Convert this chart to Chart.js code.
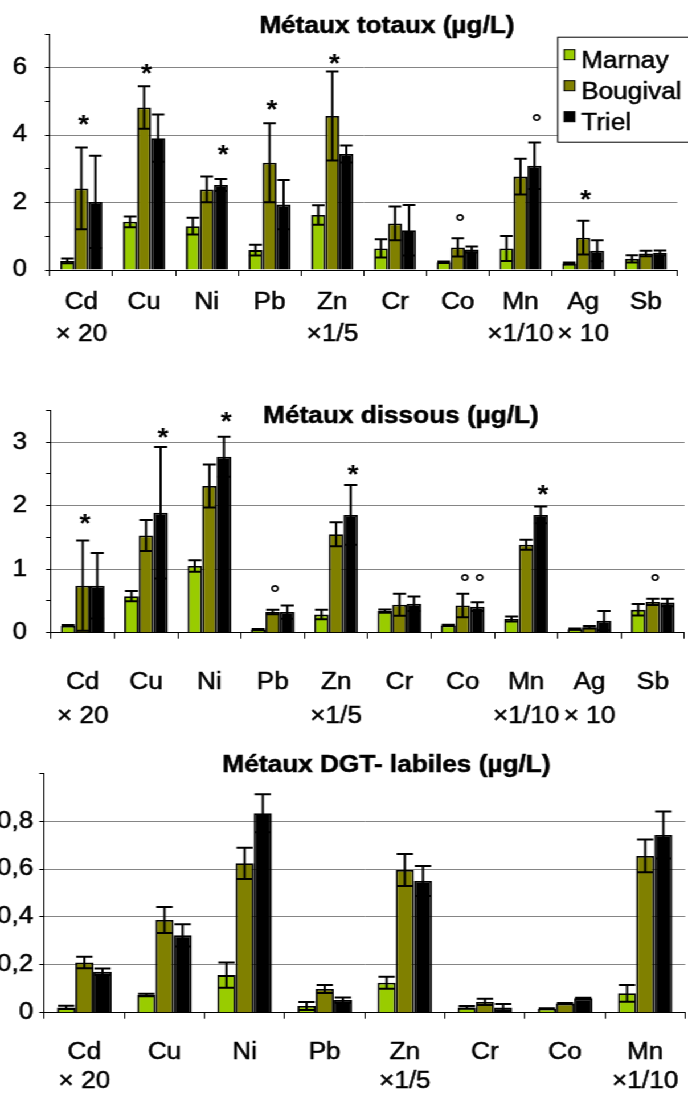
<!DOCTYPE html>
<html>
<head>
<meta charset="utf-8">
<script src="https://cdn.jsdelivr.net/npm/chart.js@4.4.1/dist/chart.umd.min.js"></script>
<style>
  html, body { margin: 0; padding: 0; background: #fff; overflow: hidden; width: 688px; height: 1095px; }
  /* the sheet is drawn at 604px and widened to the page width */
  #sheet { position: absolute; left: 0; top: 0; width: 604px; height: 1095px; overflow: hidden;
           transform: scaleX(1.1391); transform-origin: 0 0; background: #fff; }
  #sheet canvas { position: absolute; left: 0; }
</style>
</head>
<body>
<div id="sheet">
  <canvas id="cTot" width="615" height="350" style="top:0px"></canvas>
  <canvas id="cDis" width="615" height="360" style="top:380px"></canvas>
  <canvas id="cDgt" width="615" height="355" style="top:740px"></canvas>
</div>
<script>
// ---- series ----
const seriesNames = ['Marnay', 'Bougival', 'Triel'];
const seriesColors = ['#99cc00', '#808000', '#000000'];

// ---- total metals (µg/L) ----
const totCats = [['Cd', '× 20'], ['Cu', ''], ['Ni', ''], ['Pb', ''], ['Zn', '×1/5'],
                 ['Cr', ''], ['Co', ''], ['Mn', '×1/10'], ['Ag', '× 10'], ['Sb', '']];
const totMarnay      = [0.27, 1.43, 1.30, 0.59, 1.63, 0.64, 0.23, 0.64, 0.19, 0.33];
const totMarnayErr   = [0.07, 0.16, 0.25, 0.16, 0.29, 0.27, 0.02, 0.37, 0.03, 0.11];
const totBougival    = [2.42, 4.82, 2.39, 3.18, 4.57, 1.38, 0.67, 2.77, 0.96, 0.49];
const totBougivalErr = [1.21, 0.63, 0.38, 1.17, 1.32, 0.50, 0.27, 0.53, 0.50, 0.08];
const totTriel       = [2.02, 3.91, 2.52, 1.94, 3.44, 1.18, 0.61, 3.09, 0.57, 0.51];
const totTrielErr    = [1.37, 0.70, 0.18, 0.73, 0.25, 0.75, 0.09, 0.69, 0.31, 0.07];
const totYTicks = { max: 7, step: 1, labelEvery: 2 };
// significance marks: category, series, symbol, level
const totMarkCat    = [0, 1, 2, 3, 4, 6, 7, 8];
const totMarkSeries = [1, 1, 2, 1, 1, 1, 2, 1];
const totMarkSym    = ['*', '*', '*', '*', '*', '°', '°', '*'];
const totMarkLevel  = [4.5, 6.0, 3.59, 4.93, 6.29, 1.56, 4.52, 2.27];

// ---- dissolved metals (µg/L) ----
const disCats = totCats;
const disMarnay      = [0.11, 0.575, 1.05, 0.05, 0.285, 0.34, 0.115, 0.215, 0.055, 0.36];
const disMarnayErr   = [0.01, 0.08, 0.09, 0.01, 0.075, 0.025, 0.01, 0.04, 0.01, 0.09];
const disBougival    = [0.74, 1.53, 2.31, 0.325, 1.55, 0.44, 0.43, 1.385, 0.085, 0.485];
const disBougivalErr = [0.71, 0.245, 0.34, 0.035, 0.19, 0.175, 0.185, 0.08, 0.02, 0.05];
const disTriel       = [0.74, 1.89, 2.77, 0.325, 1.855, 0.455, 0.41, 1.855, 0.19, 0.475];
const disTrielErr    = [0.515, 1.035, 0.315, 0.105, 0.47, 0.115, 0.07, 0.13, 0.15, 0.06];
const disYTicks = { max: 3.5, step: 0.5, labelEvery: 1 };
const disMarkCat    = [0, 1, 2, 3, 4, 6, 6, 7, 9];
const disMarkSeries = [1, 2, 2, 1, 2, 1, 2, 2, 1];
const disMarkSym    = ['*', '*', '*', '°', '*', '°', '°', '*', '°'];
const disMarkLevel  = [1.815, 3.165, 3.415, 0.705, 2.59, 0.875, 0.875, 2.265, 0.875];

// ---- DGT-labile metals (µg/L) ----
const dgtCats = [['Cd', '× 20'], ['Cu', ''], ['Ni', ''], ['Pb', ''], ['Zn', '×1/5'],
                 ['Cr', ''], ['Co', ''], ['Mn', '×1/10']];
const dgtMarnay      = [0.022, 0.074, 0.157, 0.028, 0.125, 0.022, 0.017, 0.081];
const dgtMarnayErr   = [0.007, 0.005, 0.053, 0.017, 0.025, 0.006, 0.002, 0.035];
const dgtBougival    = [0.21, 0.387, 0.624, 0.099, 0.596, 0.045, 0.038, 0.655];
const dgtBougivalErr = [0.024, 0.054, 0.065, 0.017, 0.067, 0.013, 0.002, 0.068];
const dgtTriel       = [0.171, 0.323, 0.833, 0.053, 0.55, 0.022, 0.06, 0.742];
const dgtTrielErr    = [0.014, 0.046, 0.079, 0.011, 0.063, 0.014, 0.002, 0.098];
const dgtYTicks = { max: 1.0, step: 0.2, labelEvery: 0.2 };

const FONT = "'Liberation Sans', Arial, Helvetica, sans-serif";
const TEXT_SIZE = 23;
const TEXT_STROKE = 0.5;

// vertical error bars, both directions, with caps
const errorBars = {
  id: 'errorBars',
  afterDatasetsDraw(chart) {
    const { ctx } = chart;
    const y = chart.scales.y;
    ctx.save();
    ctx.strokeStyle = '#000';
    ctx.lineWidth = 2;
    chart.data.datasets.forEach((ds, i) => {
      chart.getDatasetMeta(i).data.forEach((bar, j) => {
        const v = ds.data[j], e = ds.errors[j];
        const yt = y.getPixelForValue(v + e);
        const yb = y.getPixelForValue(Math.max(0, v - e));
        const half = bar.width * 0.45;
        ctx.beginPath();
        ctx.moveTo(bar.x, yt); ctx.lineTo(bar.x, yb);
        ctx.moveTo(bar.x - half, yt); ctx.lineTo(bar.x + half, yt);
        ctx.moveTo(bar.x - half, yb); ctx.lineTo(bar.x + half, yb);
        ctx.stroke();
      });
    });
    ctx.restore();
  }
};

function strokedText(ctx, text, x, y) {
  ctx.lineWidth = TEXT_STROKE;
  ctx.strokeStyle = '#000';
  ctx.strokeText(text, x, y);
  ctx.fillText(text, x, y);
}

// title, boxed legend and significance marks
const decorations = {
  id: 'decorations',
  afterDraw(chart, args, o) {
    const { ctx } = chart;
    ctx.save();
    // marks above bars
    if (o.marks) {
      const y = chart.scales.y;
      o.marks.cat.forEach((c, k) => {
        const bar = chart.getDatasetMeta(o.marks.series[k]).data[c];
        const sym = o.marks.sym[k];
        const size = sym === '*' ? 25 : 22;
        ctx.fillStyle = '#000';
        ctx.textAlign = 'center';
        ctx.textBaseline = 'alphabetic';
        ctx.font = 'bold ' + size + 'px ' + FONT;
        ctx.fillText(sym, bar.x + 2, y.getPixelForValue(o.marks.level[k]) + 0.58 * size);
      });
    }
    // title
    ctx.fillStyle = '#000';
    ctx.font = 'bold ' + TEXT_SIZE + 'px ' + FONT;
    ctx.textAlign = 'center';
    ctx.textBaseline = 'alphabetic';
    strokedText(ctx, o.title.text, o.title.x, o.title.y);
    // legend
    if (o.legend) {
      const L = o.legend;
      ctx.fillStyle = '#fff';
      ctx.fillRect(L.x, L.y, L.w, L.h);
      ctx.strokeStyle = '#000';
      ctx.lineWidth = 1;
      ctx.strokeRect(L.x + 0.5, L.y + 0.5, L.w, L.h);
      ctx.font = TEXT_SIZE + 'px ' + FONT;
      ctx.textAlign = 'left';
      chart.data.datasets.forEach((ds, i) => {
        const sy = L.y + 13 + i * 31;
        ctx.fillStyle = ds.backgroundColor;
        ctx.fillRect(L.x + 6, sy, 9.5, 10);
        ctx.strokeStyle = '#000';
        ctx.lineWidth = 1;
        ctx.strokeRect(L.x + 6, sy, 9.5, 10);
        ctx.fillStyle = '#000';
        strokedText(ctx, ds.label, L.x + 21, L.y + 31.5 + i * 30.8);
      });
    }
    ctx.restore();
  }
};

function fmtTick(v) {
  const r = Math.round(v * 10) / 10;
  return String(r).replace('.', ',');
}

function buildChart(id, p) {
  const canvas = document.getElementById(id);
  const W = canvas.width, H = canvas.height;
  const isOn = (v, every) => Math.abs(v / every - Math.round(v / every)) < 1e-6;
  return new Chart(canvas, {
    type: 'bar',
    data: {
      labels: p.labels,
      datasets: p.series.map((s, i) => ({
        label: seriesNames[i],
        data: s[0],
        errors: s[1],
        backgroundColor: seriesColors[i],
        borderColor: '#000',
        borderWidth: 1.8,
        barPercentage: 1.0,
        categoryPercentage: p.catPct
      }))
    },
    options: {
      responsive: false,
      animation: false,
      devicePixelRatio: 1,
      layout: { padding: { left: 0, top: p.area.top, right: W - p.area.right, bottom: 0 } },
      plugins: {
        legend: { display: false },
        tooltip: { enabled: false },
        title: { display: false },
        decorations: { title: p.title, legend: p.legend, marks: p.marks }
      },
      scales: {
        x: {
          type: 'category',
          offset: true,
          afterFit: s => { s.height = H - p.area.bottom; },
          grid: { offset: true, drawOnChartArea: false, drawTicks: true, tickLength: 6, tickColor: '#000', tickWidth: 1 },
          border: { display: true, color: '#000', width: 1 },
          ticks: {
            autoSkip: false, maxRotation: 0, minRotation: 0, color: '#000',
            textStrokeColor: '#000', textStrokeWidth: TEXT_STROKE,
            padding: p.xPad,
            font: { family: FONT, size: TEXT_SIZE, lineHeight: p.xLine }
          }
        },
        y: {
          type: 'linear',
          min: 0,
          max: p.yt.max,
          afterFit: s => { s.width = p.area.left; },
          grid: {
            drawTicks: true, tickLength: 4.4, tickColor: '#000', tickWidth: 1,
            color: c => {
              const v = c.tick ? c.tick.value : 0;
              return (v > 1e-9 && v < p.yt.max - 1e-9 && isOn(v, p.yt.labelEvery)) ? '#858585' : 'rgba(0,0,0,0)';
            },
            lineWidth: 1
          },
          border: { display: true, color: '#000', width: 1 },
          ticks: {
            stepSize: p.yt.step, autoSkip: false, color: '#000', padding: p.yPad,
            textStrokeColor: '#000', textStrokeWidth: TEXT_STROKE,
            font: { family: FONT, size: TEXT_SIZE },
            callback: v => (v < p.yt.max - 1e-9 && isOn(v, p.yt.labelEvery)) ? fmtTick(v) : ''
          }
        }
      }
    },
    plugins: [errorBars, decorations]
  });
}

buildChart('cTot', {
  labels: totCats,
  series: [[totMarnay, totMarnayErr], [totBougival, totBougivalErr], [totTriel, totTrielErr]],
  yt: totYTicks,
  catPct: 0.67,
  area: { left: 43.9, top: 34, right: 594.6, bottom: 270 },
  xPad: 11, xLine: 1.38, yPad: 15.8,
  title: { text: 'Métaux totaux (µg/L)', x: 339.7, y: 33 },
  legend: { x: 489.2, y: 36.7, w: 140, h: 105 },
  marks: { cat: totMarkCat, series: totMarkSeries, sym: totMarkSym, level: totMarkLevel }
});

buildChart('cDis', {
  labels: disCats,
  series: [[disMarnay, disMarnayErr], [disBougival, disBougivalErr], [disTriel, disTrielErr]],
  yt: disYTicks,
  catPct: 0.69,
  area: { left: 44.8, top: 19.3, right: 608.4, bottom: 252.7 },
  xPad: 27.5, xLine: 1.47, yPad: 16.6,
  title: { text: 'Métaux dissous (µg/L)', x: 352, y: 43 },
  legend: null,
  marks: { cat: disMarkCat, series: disMarkSeries, sym: disMarkSym, level: disMarkLevel }
});

buildChart('cDgt', {
  labels: dgtCats,
  series: [[dgtMarnay, dgtMarnayErr], [dgtBougival, dgtBougivalErr], [dgtTriel, dgtTrielErr]],
  yt: dgtYTicks,
  catPct: 0.68,
  area: { left: 38.9, top: 33.3, right: 607.1, bottom: 272.7 },
  xPad: 19, xLine: 1.28, yPad: 5.3,
  title: { text: 'Métaux DGT- labiles (µg/L)', x: 339.3, y: 31.7 },
  legend: null,
  marks: null
});
</script>
</body>
</html>
